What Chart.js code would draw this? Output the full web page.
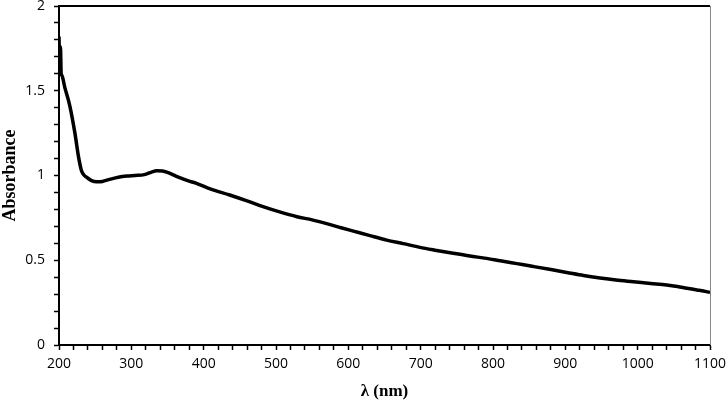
<!DOCTYPE html>
<html>
<head>
<meta charset="utf-8">
<script src="https://cdn.jsdelivr.net/npm/chart.js@4.4.1/dist/chart.umd.min.js"></script>
<style>
  html, body { margin: 0; padding: 0; background: #fff; }
  #wrap { width: 728px; height: 402px; }
</style>
</head>
<body>
<div id="wrap"><canvas id="c" width="728" height="402"></canvas></div>
<script>
  // wavelengths (nm) and absorbance
  const wavelength = [200, 201, 202, 203, 204, 208, 215, 222, 227, 231, 235, 238, 245, 252, 260, 270, 282, 294, 305, 318, 328, 335, 343, 351, 365, 381, 390, 410, 436, 460, 482, 505, 529, 550, 570, 590, 607, 630, 653, 676, 699, 722, 745, 768, 791, 810, 833, 856, 880, 902, 925, 948, 970, 994, 1018, 1040, 1055, 1068, 1082, 1095, 1100];
  const absorbance = [1.82, 1.62, 1.76, 1.60, 1.59, 1.52, 1.41, 1.25, 1.11, 1.03, 1.00, 0.99, 0.97, 0.963, 0.965, 0.977, 0.99, 0.997, 1.00, 1.005, 1.02, 1.028, 1.027, 1.017, 0.99, 0.965, 0.954, 0.92, 0.885, 0.85, 0.816, 0.785, 0.757, 0.738, 0.716, 0.692, 0.672, 0.645, 0.619, 0.598, 0.576, 0.558, 0.541, 0.525, 0.511, 0.497, 0.480, 0.463, 0.445, 0.428, 0.41, 0.395, 0.383, 0.373, 0.363, 0.354, 0.345, 0.335, 0.325, 0.315, 0.31];

  const xTitle = "λ (nm)";
  const yTitle = "Absorbance";

  const tickFont = { family: "'Open Sans', 'Liberation Sans', sans-serif", size: 14 };
  const titleFont = { family: "'Liberation Serif', 'Times New Roman', serif", size: 18, weight: "bold" };

  // cadre haut + bord droit gris
  const frame = {
    id: "frame",
    afterDraw(chart) {
      const { ctx, chartArea: a } = chart;
      ctx.save();
      ctx.strokeStyle = "#000";
      ctx.lineWidth = 2;
      ctx.beginPath();
      ctx.moveTo(a.left, a.top);
      ctx.lineTo(a.right, a.top);
      ctx.stroke();
      ctx.strokeStyle = "#888";
      ctx.lineWidth = 1;
      ctx.beginPath();
      ctx.moveTo(a.right + 0.5, a.top);
      ctx.lineTo(a.right + 0.5, a.bottom);
      ctx.stroke();
      ctx.restore();
    }
  };

  new Chart(document.getElementById("c"), {
    type: "line",
    data: {
      datasets: [{
        data: wavelength.map((w, i) => ({ x: w, y: absorbance[i] })),
        borderColor: "#000",
        borderWidth: 3.5,
        cubicInterpolationMode: "monotone",
        pointRadius: 0
      }]
    },
    options: {
      responsive: false,
      animation: false,
      layout: { padding: { top: 6, right: 18, left: 0, bottom: 0 } },
      plugins: { legend: { display: false }, tooltip: { enabled: false } },
      scales: {
        x: {
          type: "linear",
          min: 200, max: 1100,
          border: { color: "#000", width: 2 },
          grid: { drawOnChartArea: false, color: "#000", tickColor: "#000", tickLength: 5, tickWidth: 1.5 },
          ticks: {
            stepSize: 20, autoSkip: false, maxRotation: 0, color: "#000", font: tickFont, padding: 6,
            callback: v => (v % 100 === 0 ? String(v) : "")
          },
          title: { display: true, text: xTitle, color: "#000", font: { ...titleFont, size: 17 }, padding: { top: 4, bottom: 0 } },
          afterFit: s => { s.height = 57; s.paddingLeft = 0; s.paddingRight = 0; }
        },
        y: {
          min: 0, max: 2,
          border: { color: "#000", width: 2 },
          grid: { drawOnChartArea: false, color: "#000", tickColor: "#000", tickLength: 5, tickWidth: 1.5 },
          ticks: {
            stepSize: 0.1, autoSkip: false, color: "#000", font: tickFont, padding: 9,
            callback: v => {
              const r = Math.round(v * 10);
              return r % 5 === 0 ? String(r / 10) : "";
            }
          },
          title: { display: true, text: yTitle, color: "#000", font: titleFont, padding: { top: 0, bottom: 2 } },
          afterFit: s => { s.width = 59; s.paddingTop = 0; s.paddingBottom = 0; }
        }
      }
    },
    plugins: [frame]
  });
</script>
</body>
</html>
